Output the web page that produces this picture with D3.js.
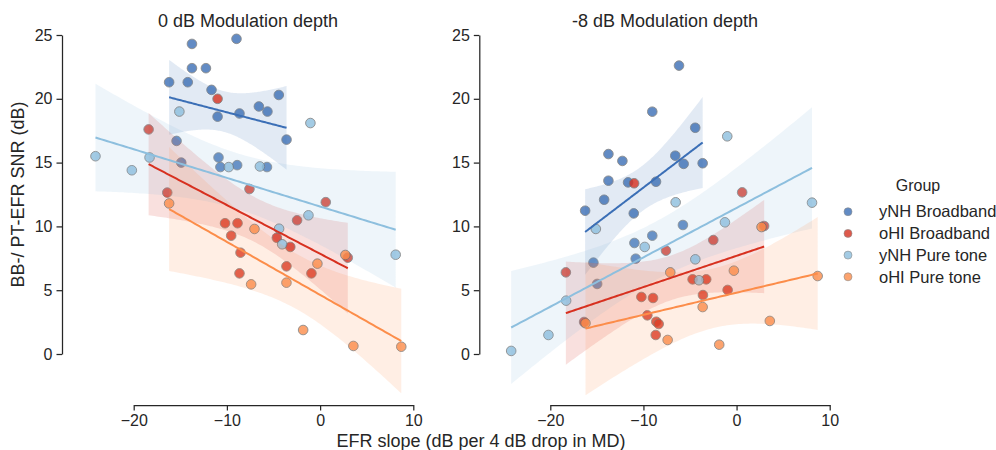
<!DOCTYPE html>
<html>
<head>
<meta charset="utf-8">
<script src="https://cdn.jsdelivr.net/npm/d3@7"></script>
<style>
  body { margin: 0; background: #fff; }
  text { font-family: "Liberation Sans", Arial, sans-serif; fill: #262626; }
</style>
</head>
<body>
<script>
// ---- data ----
const groups = ["yNH Broadband", "oHI Broadband", "yNH Pure tone", "oHI Pure tone"];
const panelTitles = ["0 dB Modulation depth", "-8 dB Modulation depth"];
const xTicks = [-20, -10, 0, 10];
const yTicks = [0, 5, 10, 15, 20, 25];

// 0 dB modulation depth, [EFR slope, SNR]
const md0_yNH_BB = [[-13.75, 24.3], [-8.97, 24.7], [-13.75, 22.4], [-12.25, 22.4], [-16.2, 21.3], [-14.2, 21.3],
  [-11.65, 20.7], [-11.0, 18.6], [-8.65, 18.85], [-6.57, 19.4], [-5.65, 19.0], [-4.43, 20.3], [-3.6, 16.8],
  [-15.4, 16.7], [-14.9, 15.0], [-10.9, 15.4], [-10.7, 14.65], [-8.9, 14.8], [-5.7, 14.65]];
const md0_oHI_BB = [[-11.0, 20.0], [-18.4, 17.6], [-16.4, 12.65], [-10.2, 10.25], [-8.86, 10.25], [-9.54, 9.27],
  [-8.54, 7.94], [-8.65, 6.32], [-7.58, 12.93], [0.61, 11.9], [-2.47, 10.48], [-4.64, 9.11], [-3.2, 8.39],
  [2.97, 7.55], [-3.61, 6.87], [-0.93, 6.32]];
const md0_yNH_PT = [[-24.1, 15.5], [-18.3, 15.4], [-20.2, 14.4], [-15.1, 19.0], [-9.8, 14.65], [-6.46, 14.7],
  [-1.04, 18.1], [-1.25, 10.87], [-4.4, 9.82], [-4.07, 8.6], [8.11, 7.78]];
const md0_oHI_PT = [[-16.2, 11.8], [-7.04, 9.8], [-7.4, 5.46], [2.71, 7.76], [-0.29, 7.08], [-3.61, 5.59],
  [-1.82, 1.88], [3.57, 0.63], [8.71, 0.57]];

// -8 dB modulation depth
const md8_yNH_BB = [[-6.18, 22.6], [-9.05, 18.99], [-13.76, 15.67], [-12.26, 15.13], [-6.58, 15.54], [-4.44, 17.73],
  [-5.68, 14.9], [-3.64, 14.95], [-13.76, 13.58], [-11.65, 13.45], [-8.65, 13.5], [-14.22, 12.09], [-16.26, 11.23],
  [-11.04, 11.02], [-10.97, 8.7], [-9.05, 9.27], [-10.83, 7.47], [-5.76, 10.11], [-15.37, 7.16], [-14.97, 5.49]];
const md8_oHI_BB = [[-11.0, 13.38], [-7.58, 8.1], [-18.33, 6.4], [-10.22, 4.47], [-8.97, 4.39], [-9.58, 3.03],
  [-8.62, 2.53], [-8.36, 2.35], [-16.37, 2.51], [-8.68, 1.49], [0.6, 12.67], [2.96, 10.03], [-2.5, 8.93],
  [-4.72, 5.85], [-3.26, 5.85], [-0.96, 5.02], [-3.61, 4.62]];
const md8_yNH_PT = [[-15.11, 9.8], [-6.54, 11.89], [-18.3, 4.18], [-20.2, 1.49], [-24.2, 0.24], [-1.0, 17.06],
  [8.1, 11.86], [-1.25, 10.32], [-4.43, 7.42], [-4.04, 5.78], [-9.86, 8.39]];
const md8_oHI_PT = [[-7.12, 6.4], [-16.22, 2.41], [-7.4, 1.1], [2.68, 9.95], [-0.29, 6.53], [-3.64, 3.68],
  [8.71, 6.11], [3.57, 2.59], [-1.86, 0.73]];

// ---- styles / layout ----
const colors = ["#3b6fb6", "#d7301f", "#8dbfde", "#fc8d4a"];
const yRange = [354, 35];
const xAxisY = 405;
const panels = [
  { title: panelTitles[0], xRange: [133.7, 413.3], spineX: 62, titleX: 248,
    sets: [md0_yNH_BB, md0_oHI_BB, md0_yNH_PT, md0_oHI_PT] },
  { title: panelTitles[1], xRange: [550.3, 829.7], spineX: 479.3, titleX: 665,
    sets: [md8_yNH_BB, md8_oHI_BB, md8_yNH_PT, md8_oHI_PT] }
];

const svg = d3.select("body").append("svg")
  .attr("width", 996)
  .attr("height", 450);

// 97.5% quantile of Student t (Cornish-Fisher expansion)
function tQuantile(df) {
  const z = 1.959964;
  const z3 = z ** 3, z5 = z ** 5, z7 = z ** 7, z9 = z ** 9;
  return z + (z3 + z) / (4 * df)
    + (5 * z5 + 16 * z3 + 3 * z) / (96 * df ** 2)
    + (3 * z7 + 19 * z5 + 17 * z3 - 15 * z) / (384 * df ** 3)
    + (79 * z9 + 776 * z7 + 1482 * z5 - 1920 * z3 - 945 * z) / (92160 * df ** 4);
}

// OLS fit with 95% confidence band over the data range
function fit(pts) {
  const n = pts.length;
  const mx = d3.mean(pts, d => d[0]), my = d3.mean(pts, d => d[1]);
  const sxx = d3.sum(pts, d => (d[0] - mx) ** 2);
  const sxy = d3.sum(pts, d => (d[0] - mx) * (d[1] - my));
  const b = sxy / sxx, a = my - b * mx;
  const s = Math.sqrt(d3.sum(pts, d => (d[1] - a - b * d[0]) ** 2) / (n - 2));
  const t = tQuantile(n - 2);
  const [x0, x1] = d3.extent(pts, d => d[0]);
  return d3.range(101).map(i => {
    const x = x0 + (x1 - x0) * i / 100;
    const yhat = a + b * x;
    const h = t * s * Math.sqrt(1 / n + (x - mx) ** 2 / sxx);
    return { x, y: yhat, lo: yhat - h, hi: yhat + h };
  });
}

const y = d3.scaleLinear().domain([0, 25]).range(yRange);

panels.forEach(p => {
  const x = d3.scaleLinear().domain([-20, 10]).range(p.xRange);
  const g = svg.append("g");
  const lineLayer = [];

  p.sets.forEach((pts, i) => {
    g.append("g").selectAll("circle")
      .data(pts)
      .join("circle")
      .attr("cx", d => x(d[0]))
      .attr("cy", d => y(d[1]))
      .attr("r", 4.8)
      .attr("fill", colors[i])
      .attr("stroke", "#6e6e6e")
      .attr("stroke-width", 0.9)
      .attr("opacity", 0.8);

    const fitted = fit(pts);
    g.append("path")
      .datum(fitted)
      .attr("fill", colors[i])
      .attr("fill-opacity", 0.15)
      .attr("d", d3.area().x(d => x(d.x)).y0(d => y(d.lo)).y1(d => y(d.hi)));
    lineLayer.push(fitted);
  });

  // regression lines sit above all points and bands
  lineLayer.forEach((fitted, i) => {
    g.append("path")
      .datum(fitted)
      .attr("fill", "none")
      .attr("stroke", colors[i])
      .attr("stroke-width", 2)
      .attr("d", d3.line().x(d => x(d.x)).y(d => y(d.y)));
  });

  // axes (trimmed spines, offset)
  const xAxis = svg.append("g")
    .attr("transform", `translate(0,${xAxisY})`)
    .call(d3.axisBottom(x).tickValues(xTicks).tickSize(5.5).tickPadding(4).tickSizeOuter(0));
  const yAxis = svg.append("g")
    .attr("transform", `translate(${p.spineX},0)`)
    .call(d3.axisLeft(y).tickValues(yTicks).tickSize(5.5).tickPadding(4).tickSizeOuter(0));
  [xAxis, yAxis].forEach(ax => {
    ax.select(".domain").attr("stroke", "#262626").attr("stroke-width", 1.25);
    ax.selectAll(".tick line").attr("stroke", "#262626").attr("stroke-width", 1.25);
    ax.selectAll(".tick text").attr("font-size", 16).attr("fill", "#262626")
      .attr("font-family", "Liberation Sans, Arial, sans-serif");
  });

  svg.append("text")
    .attr("x", p.titleX)
    .attr("y", 27)
    .attr("text-anchor", "middle")
    .attr("font-size", 18)
    .text(p.title);
});

// axis labels
svg.append("text")
  .attr("transform", "translate(24,194.5) rotate(-90)")
  .attr("text-anchor", "middle")
  .attr("font-size", 18)
  .text("BB-/ PT-EFR SNR (dB)");
svg.append("text")
  .attr("x", 481)
  .attr("y", 447)
  .attr("text-anchor", "middle")
  .attr("font-size", 18)
  .text("EFR slope (dB per 4 dB drop in MD)");

// legend
const legend = svg.append("g");
legend.append("text")
  .attr("x", 918)
  .attr("y", 191)
  .attr("text-anchor", "middle")
  .attr("font-size", 16)
  .text("Group");
const item = legend.selectAll("g.item")
  .data(groups)
  .join("g")
  .attr("class", "item")
  .attr("transform", (d, i) => `translate(0,${211.7 + i * 21.7})`);
item.append("circle")
  .attr("cx", 848)
  .attr("r", 4)
  .attr("fill", (d, i) => colors[i])
  .attr("stroke", "#6e6e6e")
  .attr("stroke-width", 0.6)
  .attr("opacity", 0.8);
item.append("text")
  .attr("x", 879)
  .attr("dy", "0.35em")
  .attr("font-size", 16.5)
  .text(d => d);
</script>
</body>
</html>
